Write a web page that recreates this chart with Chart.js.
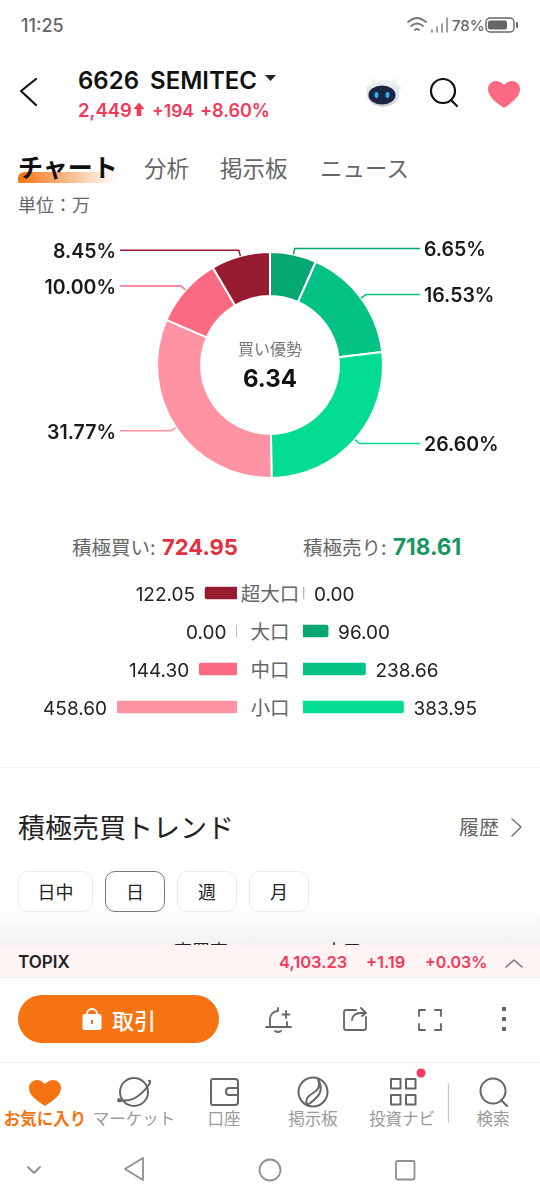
<!DOCTYPE html>
<html lang="ja">
<head>
<meta charset="utf-8">
<title>6626 SEMITEC</title>
<script src="https://cdn.jsdelivr.net/npm/chart.js@4/dist/chart.umd.min.js"></script>
<style>
    html, body { margin: 0; padding: 0; background: #fff; }
    body { position: relative; width: 540px; height: 1200px; overflow: hidden; font-family: Inter, "Noto Sans CJK JP", sans-serif; color: #111; }
    canvas { position: absolute; display: block; }
    .t { position: absolute; white-space: nowrap; line-height: 1; transform: translateY(-50%); }
    .c { transform: translate(-50%, -50%); }
    .jp { font-family: "Noto Sans CJK JP", sans-serif; }
    .red { color: #f5385a; font-weight: 600; }
    .nav { font-size: 16.500px; color: #9a9a9a; font-family: "Noto Sans CJK JP", sans-serif; }
    .btn { position: absolute; top: 871px; height: 39px; border: 1px solid #ececec; border-radius: 10px; box-sizing: content-box; line-height: 39px; text-align: center; font-size: 18px; font-family: "Noto Sans CJK JP", sans-serif; color: #222; background: #fff; }
</style>
</head>
<body>
<!-- 상단 -->
<div class="t" style="left:21px;top:26px;font-size:18px;color:#666;font-weight:500;">11:25</div>
<div class="t" style="left:452px;top:25px;font-size:15px;color:#666;font-weight:500;">78%</div>
<div class="t" style="left:78px;top:81px;font-size:24px;font-weight:600;word-spacing:5px;">6626 SEMITEC</div>
<div class="t red" style="left:78px;top:110px;font-size:18.500px;">2,449</div>
<div class="t red" style="left:152px;top:111px;font-size:17.500px;">+194</div>
<div class="t red" style="left:200px;top:111px;font-size:18px;">+8.60%</div>

<div style="position:absolute;left:18px;top:172px;width:98px;height:11px;border-radius:6px 0 0 2px;background:linear-gradient(90deg,#f57312,rgba(245,115,18,0));"></div>
<div class="t jp" style="left:18px;top:166px;font-size:25px;font-weight:700;">チャート</div>
<div class="t jp" style="left:144px;top:167px;font-size:22.500px;color:#666;">分析</div>
<div class="t jp" style="left:220px;top:167px;font-size:22.500px;color:#666;">掲示板</div>
<div class="t jp" style="left:320px;top:167px;font-size:22.500px;color:#666;">ニュース</div>
<div class="t jp" style="left:18px;top:204px;font-size:18px;color:#666;">単位：万</div>

<!-- 도넛 -->
<canvas id="ringChart" width="540" height="270" style="left:0;top:230px;"></canvas>
<div class="t c jp" style="left:270px;top:348px;font-size:16px;color:#777;">買い優勢</div>
<div class="t c" style="left:270px;top:379px;font-size:24px;font-weight:700;">6.34</div>

<div class="t jp" style="left:72px;top:547px;font-size:19.500px;color:#666;">積極買い:</div>
<div class="t" style="left:162px;top:547px;font-size:22px;font-weight:700;color:#e0323f;">724.95</div>
<div class="t jp" style="left:303px;top:547px;font-size:19.500px;color:#666;">積極売り:</div>
<div class="t" style="left:393px;top:547px;font-size:22.500px;font-weight:700;color:#1a9560;">718.61</div>

<!-- 막대 -->
<canvas id="buyChart" width="237" height="152" style="left:0;top:574px;"></canvas>
<canvas id="sellChart" width="237" height="152" style="left:303px;top:574px;"></canvas>
<div class="t c jp" style="left:270px;top:593px;font-size:19.500px;color:#666;">超大口</div>
<div class="t c jp" style="left:270px;top:631px;font-size:19.500px;color:#666;">大口</div>
<div class="t c jp" style="left:270px;top:669px;font-size:19.500px;color:#666;">中口</div>
<div class="t c jp" style="left:270px;top:707px;font-size:19.500px;color:#666;">小口</div>

<div style="position:absolute;left:0;top:767px;width:540px;height:1px;background:#eee;"></div>
<div class="t jp" style="left:18px;top:826px;font-size:27px;color:#222;">積極売買トレンド</div>
<div class="t jp" style="left:459px;top:827px;font-size:20px;color:#666;">履歴</div>

<!-- 하단 -->
<div style="position:absolute;left:0;top:905px;width:540px;height:40px;background:linear-gradient(#fff,#f2f2f2);"></div>
<div class="btn" style="left:18px;width:73px;">日中</div>
<div class="btn" style="left:105px;width:58px;border-color:#777;">日</div>
<div class="btn" style="left:177px;width:58px;">週</div>
<div class="btn" style="left:249px;width:58px;">月</div>
<div class="t jp" style="left:174px;top:950px;font-size:18px;color:#222;">売買高</div>
<div class="t jp" style="left:325px;top:950px;font-size:18px;color:#222;">大口</div>
<div style="position:absolute;left:0;top:945px;width:540px;height:32px;background:#fff3f4;border-bottom:1px solid #eee;"></div>
<div class="t" style="left:18px;top:962px;font-size:17px;font-weight:600;color:#222;">TOPIX</div>
<div class="t red" style="left:279px;top:962px;font-size:16.500px;">4,103.23</div>
<div class="t red" style="left:366px;top:962px;font-size:16.500px;">+1.19</div>
<div class="t red" style="left:425px;top:962px;font-size:16px;">+0.03%</div>

<div style="position:absolute;left:18px;top:995px;width:201px;height:48px;border-radius:24px;background:#f57312;"></div>
<div class="t jp" style="left:112px;top:1019px;font-size:22px;font-weight:500;color:#fff;">取引</div>
<div style="position:absolute;left:0;top:1062px;width:540px;height:1px;background:#eee;"></div>

<div class="t c jp" style="left:45px;top:1118px;font-size:16.500px;font-weight:700;color:#f57312;">お気に入り</div>
<div class="t c nav" style="left:134px;top:1118px;">マーケット</div>
<div class="t c nav" style="left:224px;top:1118px;">口座</div>
<div class="t c nav" style="left:313px;top:1118px;">掲示板</div>
<div class="t c nav" style="left:402px;top:1118px;">投資ナビ</div>
<div class="t c nav" style="left:493px;top:1118px;">検索</div>

<svg width="540" height="1200" style="position:absolute;left:0;top:0;" fill="none" stroke-linecap="round" stroke-linejoin="round">
    <defs>
        <linearGradient id="botShell" x1="0" y1="0" x2="0" y2="1"><stop offset="0" stop-color="#f4f6f8"/><stop offset="1" stop-color="#c9d2da"/></linearGradient>
    </defs>
    <!-- status -->
    <g stroke="#777" stroke-width="1.800">
        <path d="M408 22q9-8 18 0M411 26q6-5 12 0"/><path d="M415 30q2-2 4 0"/>
        <path d="M432 32v-2M437 32v-5M442 32v-8M447 32v-14" stroke-width="1.400"/>
    </g>
    <rect x="486" y="18" width="28" height="14" rx="4" stroke="#666" stroke-width="1.400"/>
    <rect x="488" y="20.500" width="19" height="9" rx="2" fill="#666"/>
    <rect x="516" y="22" width="2" height="6" rx="1" fill="#666"/>
    <!-- header -->
    <path d="M36 79 21 91 36 105" stroke="#111" stroke-width="2.200"/>
    <path d="M265 75h11l-5.500 6z" fill="#222"/>
    <path d="M139 102.500l5.500 6.500h-3.200v7h-4.600v-7h-3.200z" fill="#f5385a"/>
    <!-- robot -->
    <path d="M365 88q3-3 5-3l2-7 6 3q6-3 12 0l6-3 1 7q3 1 5 3l-3 2q2 15-16 17-18-2-16-17z" fill="url(#botShell)"/>
    <ellipse cx="382" cy="95" rx="13.500" ry="9.500" fill="#1b2540"/>
    <ellipse cx="376.500" cy="95" rx="2" ry="3" fill="#27b4ff"/><ellipse cx="387.500" cy="95" rx="2" ry="3" fill="#27b4ff"/>
    <circle cx="443" cy="91" r="12" stroke="#111" stroke-width="2.200"/>
    <path d="M451 100l6 6" stroke="#111" stroke-width="2.200"/>
    <path d="M504 108c-9-6-16-12-16-19 0-5 4-8 8-8 3 0 6 2 8 4 2-2 5-4 8-4 4 0 8 3 8 8 0 7-7 13-16 19z" fill="#fc6a82"/>
    <path d="M512 819l9 8-9 9" stroke="#777" stroke-width="1.600"/>
    <path d="M506 967l8-7 8 7" stroke="#777" stroke-width="1.600"/>
    <!-- action row -->
    <path d="M87 1016v-2a5 5 0 0 1 10 0v2" stroke="#fff" stroke-width="2"/>
    <rect x="82.500" y="1014" width="19" height="16" rx="2.500" fill="#fff"/>
    <rect x="91" y="1020" width="2" height="4" fill="#f57312"/>
    <g stroke="#666" stroke-width="1.800">
        <path d="M266 1027h25M270 1027v-8a8 8 0 0 1 8-8M287 1027v-5M275 1031q3 2 6 0M278 1011v-3M286 1011v7M282.500 1014.500h7"/>
        <path d="M356 1010h-10q-2 0-2 2v16q0 2 2 2h18q2 0 2-2v-11M352 1020q1-7 9-7h5M361 1008l5 5-4 3"/>
        <path d="M419 1016v-6h6M435 1010h6v6M441 1024v6h-6M425 1030h-6v-6"/>
    </g>
    <g fill="#666"><rect x="502" y="1007" width="4" height="4"/><rect x="502" y="1017" width="4" height="4"/><rect x="502" y="1027" width="4" height="4"/></g>
    <!-- tab bar -->
    <path d="M45 1106c-9-6-16-11-16-18 0-5 4-8 8-8 3 0 6 2 8 4 2-2 5-4 8-4 4 0 8 3 8 8 0 7-7 12-16 18z" fill="#f57312"/>
    <g stroke="#666" stroke-width="2">
        <circle cx="134" cy="1092" r="14"/><path d="M120 1100q10 2 18-4t12-13"/><path d="M119 1099l-1 1q0 2 3 1M149 1081q1-1 1 1"/>
        <path d="M213 1079h22q3 0 3 3v20q0 3-3 3h-22q-2 0-2-2v-22q0-2 2-2z"/><path d="M238 1088h-9q-3 0-3 3.500t3 3.500h9"/>
        <circle cx="313" cy="1092" r="14.500"/><path d="M318 1079q4 9-5 14t-6 12M318 1079q6 11-1 18t-10 8"/>
        <rect x="391" y="1079" width="9.500" height="9.500"/><rect x="406" y="1079" width="9.500" height="9.500"/><rect x="391" y="1095" width="9.500" height="9.500"/><rect x="406" y="1095" width="9.500" height="9.500"/>
        <circle cx="493" cy="1091" r="12.500"/><path d="M501 1100l6 6"/>
    </g>
    <circle cx="421" cy="1073" r="4.500" fill="#f5385a"/>
    <path d="M448.500 1084v38" stroke="#ccc" stroke-width="1.400"/>
    <!-- nav bar -->
    <g stroke="#8f8f8f" stroke-width="1.800">
        <path d="M28 1167l6 6 6-6"/>
        <path d="M143 1158v22l-18-11z"/>
        <circle cx="270" cy="1170" r="10.500"/>
        <rect x="396" y="1161" width="18.500" height="18.500" rx="1.500"/>
    </g>
</svg>

<script>
// 차트 데이터
const ringShares = [6.65, 16.53, 26.60, 31.77, 10.00, 8.45];
const ringLabels = ['6.65%', '16.53%', '26.60%', '31.77%', '10.00%', '8.45%'];
const ringColors = ['#05a873', '#03c283', '#02dc90', '#ff92a3', '#fc6a82', '#981c30'];

const tiers = ['超大口', '大口', '中口', '小口'];
const buyValues = [122.05, 0.00, 144.30, 458.60];
const sellValues = [0.00, 96.00, 238.66, 383.95];
const buyColors = ['#981c30', '#a8b4cc', '#fc6a82', '#ff92a3'];
const sellColors = ['#a8b4cc', '#05a873', '#03c283', '#02dc90'];
const barAxisMax = 458.60;

Chart.defaults.animation = false;
Chart.defaults.plugins.legend.display = false;
Chart.defaults.plugins.tooltip.enabled = false;

// 도넛 라벨 + 지시선
const ringLabelPlugin = {
    id: 'ringLabels',
    afterDatasetsDraw(chart) {
        const ctx = chart.ctx;
        chart.getDatasetMeta(0).data.forEach((arc, i) => {
            const p = arc.getProps(['x', 'y', 'startAngle', 'endAngle', 'outerRadius']);
            const mid = (p.startAngle + p.endAngle) / 2;
            const right = Math.cos(mid) >= 0;
            const x0 = p.x + Math.cos(mid) * p.outerRadius;
            const y0 = p.y + Math.sin(mid) * p.outerRadius;
            const x1 = p.x + Math.cos(mid) * (p.outerRadius + 6);
            const y1 = p.y + Math.sin(mid) * (p.outerRadius + 6);
            const x2 = right ? 420 : 120;

            ctx.save();
            ctx.strokeStyle = ringColors[i];
            ctx.lineWidth = 1.5;
            ctx.beginPath();
            ctx.moveTo(x0, y0);
            ctx.lineTo(x1, y1);
            ctx.lineTo(x2, y1);
            ctx.stroke();

            ctx.fillStyle = '#1a1a1a';
            ctx.font = '600 19.500px Inter';
            ctx.textBaseline = 'middle';
            ctx.textAlign = right ? 'left' : 'right';
            ctx.fillText(ringLabels[i], right ? 424 : 116, y1 + 2);
            ctx.restore();
        });
    }
};

function _renderRingChart() {
    new Chart(document.getElementById('ringChart'), {
        type: 'doughnut',
        data: {
            labels: ringLabels,
            datasets: [{
                data: ringShares,
                backgroundColor: ringColors,
                borderColor: '#fff',
                borderWidth: 2
            }]
        },
        options: {
            responsive: false,
            radius: 113,
            cutout: '61%'
        },
        plugins: [ringLabelPlugin]
    });
}

// 막대 옆 값 라벨
const barValuePlugin = {
    id: 'barValues',
    afterDatasetsDraw(chart, args, opts) {
        const ctx = chart.ctx;
        const values = chart.data.datasets[0].data;
        chart.getDatasetMeta(0).data.forEach((bar, i) => {
            ctx.save();
            ctx.fillStyle = '#222';
            ctx.font = '19px Inter';
            ctx.textBaseline = 'middle';
            ctx.textAlign = opts.reverse ? 'right' : 'left';
            const left = Math.min(bar.x, bar.base);
            const right = Math.max(bar.x, bar.base);
            const edge = Math.max(right - left, 1);
            const x = opts.reverse ? right - edge - 10 : left + edge + 10;
            ctx.fillText(values[i].toFixed(2), x, bar.y + 2);
            ctx.restore();
        });
    }
};

function _renderBarChart(canvasId, values, colors, reverse) {
    new Chart(document.getElementById(canvasId), {
        type: 'bar',
        data: {
            labels: tiers,
            datasets: [{
                data: values,
                backgroundColor: colors,
                borderRadius: 2,
                barThickness: 12,
                minBarLength: 1
            }]
        },
        options: {
            responsive: false,
            indexAxis: 'y',
            layout: { padding: reverse ? { left: 117 } : { right: 117 } },
            scales: {
                x: { display: false, min: 0, max: barAxisMax, reverse: reverse },
                y: { display: false }
            },
            plugins: { barValues: { reverse: reverse } }
        },
        plugins: [barValuePlugin]
    });
}

_renderRingChart();
_renderBarChart('buyChart', buyValues, buyColors, true);
_renderBarChart('sellChart', sellValues, sellColors, false);
</script>
</body>
</html>
